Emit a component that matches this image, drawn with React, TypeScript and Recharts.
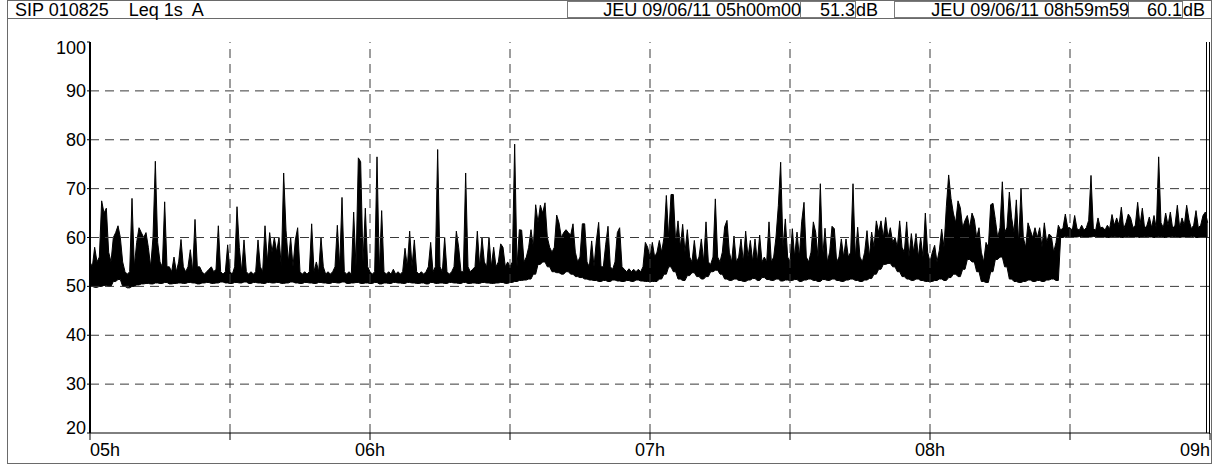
import React from 'react';
import { ComposedChart, Area, XAxis, YAxis, ReferenceLine } from 'recharts';

const headerTitle = 'SIP 010825    Leq 1s  A';
const startStamp = 'JEU 09/06/11 05h00m00';
const startLevel = '51.3';
const endStamp = 'JEU 09/06/11 08h59m59';
const endLevel = '60.1';
const unit = 'dB';

// minutes after 05h00
const xTicks = [0, 30, 60, 90, 120, 150, 180, 210, 240];
const hourLabels = ['05h', '06h', '07h', '08h', '09h'];
const gridX = [30, 60, 90, 120, 150, 180, 210];
const yTicks = [20, 30, 40, 50, 60, 70, 80, 90, 100];
const gridY = [30, 40, 50, 60, 70, 80, 90];

// upper envelope of the Leq 1s trace, one value per 30 s (10 min per line)
const hiLevels = [
  55, 54, 58, 55, 56, 67.5, 65, 66, 57, 55, 60, 61, 62.4, 60, 55, 53, 52.5, 53, 68, 54,
  59, 62, 61, 60, 61, 58, 54, 60, 75.6, 59, 55, 54, 67.3, 54, 54, 53, 56, 53, 55, 59.6,
  54, 53, 54, 57.5, 53, 63.7, 54, 54, 53, 52.5, 53, 53.5, 54, 53, 53.5, 62.4, 53, 52.5, 53, 58.5,
  53, 52.5, 54, 66.3, 58, 53, 59.5, 53, 52.5, 53, 52.5, 53, 59.5, 54, 53, 62.4, 55, 61, 57, 60,
  57, 60, 54, 73.2, 61.5, 55, 60, 54, 59.5, 62, 53, 52.5, 53, 52.5, 53, 62.8, 53, 55, 53, 60,
  54, 52.5, 53, 52.5, 53, 54, 62.5, 54, 68.2, 53, 52.5, 53, 52.5, 65.2, 54, 76.3, 75.5, 55, 66, 54,
  53, 52.5, 53, 76.5, 53, 65.5, 53, 52.5, 53, 52.5, 53.5, 52.5, 53, 52.5, 53, 57.8, 54, 61.3, 54, 59.5,
  53, 52.5, 53, 52.5, 53, 54, 59, 53, 54, 78, 54, 53, 60, 53, 52.5, 53, 54, 61.3, 58, 53,
  53, 73.2, 54, 53, 53.5, 54, 61.3, 54, 60, 55, 54, 60, 54, 58, 54, 55, 58.7, 58, 54, 55,
  54, 55, 79.1, 54, 61.6, 61.5, 55, 56, 58, 61.6, 58, 66.7, 63, 66.6, 65, 67.1, 60, 58, 57, 58,
  64.6, 63, 60, 61, 61.6, 61, 60.5, 62.8, 57, 55, 56, 62.8, 62.8, 55, 54, 59.3, 54, 59.3, 63.1, 54,
  54, 58.5, 62.3, 54, 53.5, 55, 61, 62, 54, 53.5, 53, 53.6, 53, 53.5, 53, 53.5, 53, 54, 59, 58,
  56, 59, 56, 57, 59.4, 57, 60, 68.6, 60, 68.8, 68.8, 59, 63.4, 58, 62.7, 57, 61.6, 56, 55, 59.4,
  55, 56, 59.7, 55, 63.2, 55, 54.5, 56, 67.9, 56, 55, 57, 62.2, 63.5, 57, 55, 60.3, 55, 56, 59.7,
  55, 61.3, 56, 59.4, 55, 59.7, 55, 60.5, 55, 56, 55, 63.2, 55, 56, 60.1, 66.5, 75.4, 58, 63.8, 56,
  55, 61.8, 56, 61.1, 56, 63.2, 67.2, 56, 55, 57, 63.2, 61.1, 56, 71, 56, 61.9, 55, 57, 62.3, 61.8,
  55, 56, 59.7, 56, 59.7, 56, 57, 71, 56, 62.1, 56, 55, 57, 61.4, 56, 61.1, 58, 63.4, 61, 63.4,
  60, 64.1, 60, 62, 59, 60, 58, 63.4, 58, 57, 63.2, 56, 60.8, 57, 60.8, 56, 60.1, 56, 65, 57,
  55, 57, 58.4, 55, 57.4, 61.7, 58, 66.3, 72.8, 68, 65, 63, 67.5, 66.1, 62, 63.5, 64.5, 62, 65, 63.7,
  60, 62, 57, 55, 59, 58, 66.7, 67, 63.7, 60, 62, 71.4, 61, 62.1, 69.3, 64, 61, 67.7, 59, 70,
  60, 58, 63, 61.5, 60, 62, 60, 62, 58, 63, 59, 60.7, 60.3, 57, 59, 62.5, 61.5, 62, 64.8, 62,
  62, 61.5, 64.5, 61.8, 61.5, 62.5, 61.5, 62, 63.5, 72.7, 61.8, 61.5, 64, 62, 62.1, 61.5, 62.5, 61.8, 64.7, 62.5,
  64, 62.5, 66.2, 61.8, 63, 64.8, 64, 62, 62.5, 67.2, 62.5, 66, 61.8, 62.5, 64.2, 62, 64.5, 61.8, 76.5, 63,
  62, 65, 62.5, 65.2, 61.8, 62.5, 66.6, 62, 64, 62.5, 66.6, 63.6, 61.8, 62.5, 65.5, 62, 62.5, 64.5, 65.2, 63,
];

// lower envelope, one value per minute (10 min per line)
const loLevels = [
  50, 49.8, 50, 50.2, 50, 51, 51.4, 50, 49.7, 50,
  50.3, 50.5, 50.6, 50.5, 50.7, 50.6, 50.8, 50.5, 50.6, 50.7,
  50.6, 50.8, 50.7, 50.5, 50.7, 50.8, 50.6, 50.7, 50.9, 50.7,
  50.6, 50.8, 50.7, 50.9, 50.6, 50.8, 50.7, 50.6, 50.8, 50.7,
  50.8, 50.6, 50.7, 50.9, 50.7, 50.6, 50.8, 50.7, 50.6, 50.8,
  50.7, 50.6, 50.8, 50.7, 50.9, 50.6, 50.7, 50.8, 50.6, 50.7,
  50.6, 50.8, 50.5, 50.7, 50.6, 50.8, 50.7, 50.6, 50.8, 50.7,
  50.6, 50.7, 50.5, 50.8, 50.6, 50.7, 50.6, 50.8, 50.7, 50.6,
  50.8, 50.6, 50.7, 50.6, 50.8, 50.7, 50.6, 50.7, 50.8, 50.6,
  50.8, 51, 51.2, 51.3, 51.5, 52.5, 54.5, 55, 54, 53,
  52.8, 52.5, 53, 52.5, 52, 51.8, 51.5, 51.3, 51.2, 51,
  51.2, 51, 51.3, 51.1, 51, 51.2, 51, 51.3, 51.1, 51,
  51, 51, 51.5, 52.5, 54, 53, 51.5, 51.2, 52.2, 52.8,
  52, 51.5, 52, 53, 53.3, 52.5, 51.5, 51.2, 51.5, 51.2,
  51, 51.3, 51.6, 51.2, 51.8, 51.4, 51.2, 51.5, 51.1, 51.3,
  51.2, 51.4, 51, 51.3, 51.5, 51.2, 51, 51.4, 51.2, 51.5,
  51.2, 51, 51.3, 51.5, 51.2, 51, 51.3, 51.6, 52.5, 53.5,
  54.5, 54.7, 54, 53, 52, 51.5, 51.2, 51.5, 51.2, 51,
  51, 51.2, 51.5, 51.2, 51.8, 52.5, 52, 53.5, 55.5, 55,
  53, 51, 50.8, 53, 55.5, 56, 54, 51.5, 51, 50.8,
  51, 51.3, 51, 51.2, 51, 51.3, 51.5, 51.2, 60, 60.2,
  60, 60.1, 60.2, 60, 60.1, 60.2, 60, 60.1, 60, 60.2,
  60.1, 60, 60.2, 60, 60.1, 60, 60.2, 60.1, 60, 60.2,
  60, 60.1, 60.2, 60, 60.1, 60, 60.2, 60, 60.1, 60,
];

const rows = hiLevels.map((hi, i) => ({
  t: i * 0.5,
  band: [loLevels[Math.floor(i / 2)], hi],
}));

const FONT = '"Liberation Sans", Arial, sans-serif';
const gridStroke = '#3a3a3a';

function HourTick({ x, y, payload }: any) {
  const v = payload.value;
  if (v % 60 !== 0) return <g />;
  const anchor = v === 0 ? 'start' : v === 240 ? 'end' : 'middle';
  return (
    <text x={x} y={y} dy={14} textAnchor={anchor} fontSize={18} fontFamily={FONT} fill="#000">
      {hourLabels[v / 60]}
    </text>
  );
}

function LevelTick({ x, y, payload }: any) {
  const v = payload.value;
  const shift = v === 100 ? 12 : v === 20 ? 1 : 6;
  return (
    <text x={x} y={y} dy={shift} textAnchor="end" fontSize={18} fontFamily={FONT} fill="#000">
      {v}
    </text>
  );
}

const boxStyle: React.CSSProperties = {
  position: 'absolute',
  top: 1,
  height: 17,
  border: '1px solid #7a7a7a',
  boxSizing: 'border-box',
  background: '#fff',
};

const headText: React.CSSProperties = {
  position: 'absolute',
  top: 0,
  whiteSpace: 'pre',
  lineHeight: '21px',
};

export default function App() {
  return (
    <div
      style={{
        position: 'absolute',
        left: 0,
        top: 0,
        width: 1218,
        height: 464,
        background: '#fff',
        fontFamily: FONT,
        fontSize: 18,
        color: '#000',
        overflow: 'hidden',
      }}
    >
      <div
        style={{
          position: 'absolute',
          left: 7,
          top: 0,
          width: 1205,
          height: 464,
          border: '1px solid #6a6a6a',
          boxSizing: 'border-box',
        }}
      />
      <div
        style={{
          position: 'absolute',
          left: 7,
          top: 0,
          width: 1205,
          height: 19,
          borderBottom: '1px solid #6a6a6a',
          boxSizing: 'border-box',
        }}
      />
      <div style={{ ...boxStyle, left: 567, width: 234 }} />
      <div style={{ ...boxStyle, left: 800, width: 56 }} />
      <div style={{ ...boxStyle, left: 894, width: 235 }} />
      <div style={{ ...boxStyle, left: 1128, width: 55 }} />

      <div style={{ ...headText, left: 15 }}>{headerTitle}</div>
      <div style={{ ...headText, right: 1218 - 801 }}>{startStamp}</div>
      <div style={{ ...headText, right: 1218 - 855 }}>{startLevel}</div>
      <div style={{ ...headText, left: 856 }}>{unit}</div>
      <div style={{ ...headText, right: 1218 - 1129 }}>{endStamp}</div>
      <div style={{ ...headText, right: 1218 - 1182 }}>{endLevel}</div>
      <div style={{ ...headText, left: 1183 }}>{unit}</div>

      <div style={{ position: 'absolute', left: 0, top: 0 }}>
        <ComposedChart
          width={1218}
          height={464}
          data={rows}
          margin={{ top: 42, right: 8, bottom: 0, left: 0 }}
        >
          {gridY.map((v) => (
            <ReferenceLine key={'y' + v} y={v} stroke={gridStroke} strokeDasharray="9 6" />
          ))}
          {gridX.map((v) => (
            <ReferenceLine key={'x' + v} x={v} stroke={gridStroke} strokeDasharray="9 6" />
          ))}
          <XAxis
            type="number"
            dataKey="t"
            domain={[0, 240]}
            ticks={xTicks}
            interval={0}
            height={31}
            tickSize={7}
            tickMargin={2}
            tick={<HourTick />}
            axisLine={{ stroke: '#000', strokeWidth: 1 }}
            tickLine={{ stroke: '#000' }}
            allowDataOverflow
          />
          <YAxis
            type="number"
            domain={[20, 100]}
            ticks={yTicks}
            interval={0}
            width={90}
            tickSize={3}
            tickMargin={1}
            tick={<LevelTick />}
            axisLine={{ stroke: '#000', strokeWidth: 2 }}
            tickLine={{ stroke: '#000' }}
            allowDataOverflow
          />
          <Area
            dataKey="band"
            type="linear"
            stroke="#000"
            strokeWidth={1}
            fill="#000"
            fillOpacity={1}
            dot={false}
            activeDot={false}
            isAnimationActive={false}
          />
        </ComposedChart>
      </div>
      <div style={{ position: 'absolute', left: 1206, top: 42, width: 1, height: 391, background: '#000' }} />
      <div style={{ position: 'absolute', left: 1209, top: 42, width: 1, height: 392, background: '#000' }} />
    </div>
  );
}
